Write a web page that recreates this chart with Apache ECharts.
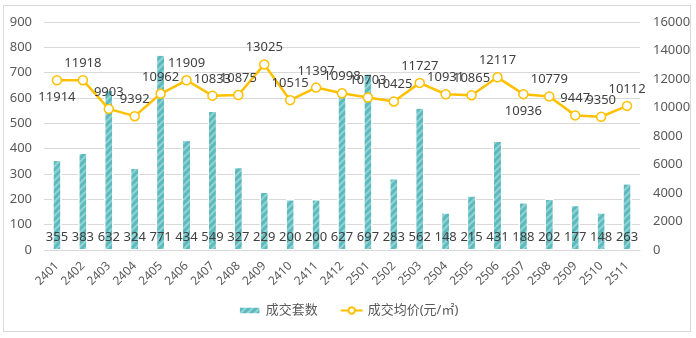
<!DOCTYPE html>
<html><head><meta charset="utf-8">
<script src="https://cdn.jsdelivr.net/npm/echarts@6/dist/echarts.min.js"></script>
<style>html,body{margin:0;padding:0;background:#fff}#wrap{position:absolute;left:3px;top:5px;width:688px;height:327px;border:1px solid #D9D9D9;box-sizing:border-box}#c{position:absolute;left:0;top:0;width:696px;height:338px}</style>
</head><body><div id="wrap"></div><div id="c"></div>
<script>
const categories = ['2401','2402','2403','2404','2405','2406','2407','2408','2409','2410','2411','2412','2501','2502','2503','2504','2505','2506','2507','2508','2509','2510','2511'];
const dealCount = [355,383,632,324,771,434,549,327,229,200,200,627,697,283,562,148,215,431,188,202,177,148,263];
const avgPrice = [11914,11918,9903,9392,10962,11909,10833,10875,13025,10515,11397,10998,10703,10425,11727,10931,10865,12117,10936,10779,9447,9350,10112];
const priceLabelBelow = ['2401','2507'];

const font = 'Noto Sans, Noto Sans CJK SC, sans-serif';
const chart = echarts.init(document.getElementById('c'), null, {renderer:'canvas'});
chart.setOption({
  animation:false,
  textStyle:{fontFamily:font},
  grid:{left:44,right:56,top:22,bottom:88},
  legend:{
    bottom:16,left:'center',itemGap:22,itemWidth:22,itemHeight:8,
    textStyle:{color:'#595959',fontSize:13,fontFamily:font},
    data:[{name:'成交套数',icon:'rect',itemStyle:{color:'#5BBABD'}},{name:'成交均价(元/㎡)',itemStyle:{color:'#fff',borderColor:'#FFC000'}}]
  },
  xAxis:{
    type:'category',data:categories,
    axisLine:{show:true,lineStyle:{color:'#D9D9D9'}},
    axisTick:{show:false},
    axisLabel:{rotate:45,color:'#595959',fontSize:12,margin:14,interval:0}
  },
  yAxis:[
    {type:'value',min:0,max:900,interval:100,
     axisLabel:{color:'#595959',fontSize:13,margin:12},
     splitLine:{lineStyle:{color:'#D9D9D9'}},axisLine:{show:false}},
    {type:'value',min:0,max:16000,interval:2000,
     axisLabel:{color:'#595959',fontSize:13,margin:13,formatter:v=>String(v)},
     splitLine:{show:false},axisLine:{show:false}}
  ],
  series:[
    {name:'成交套数',type:'bar',data:dealCount,barWidth:9,
     itemStyle:{color:'#5BBABD',borderColor:'#fff',borderWidth:1,
       decal:{color:'rgba(255,255,255,0.35)',dashArrayX:[1,0],dashArrayY:[2,3],rotation:-Math.PI/4,symbol:'rect'}},
     label:{show:true,position:'insideBottom',distance:6,color:'#404040',fontSize:13}
    },
    {name:'成交均价(元/㎡)',type:'line',yAxisIndex:1,
     data:avgPrice.map((v,i)=>({value:v,label:{position:priceLabelBelow.includes(categories[i])?'bottom':'top'}})),
     lineStyle:{color:'#FFC000',width:2.5},
     itemStyle:{color:'#fff',borderColor:'#FFC000',borderWidth:1.5},
     symbol:'circle',symbolSize:9,
     emphasis:{disabled:true},
     label:{show:true,color:'#404040',fontSize:13,distance:5}
    }
  ]
});
</script></body></html>
